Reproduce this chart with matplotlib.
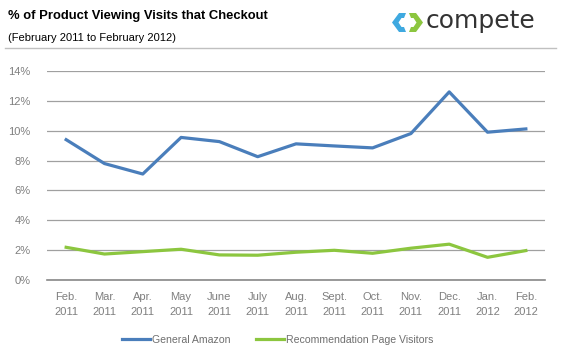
import numpy as np
import matplotlib.pyplot as plt
from matplotlib.patches import Polygon

plt.rcParams['font.family'] = ['Liberation Sans', 'DejaVu Sans']

months = ["Feb.\n2011", "Mar.\n2011", "Apr.\n2011", "May\n2011", "June\n2011",
          "July\n2011", "Aug.\n2011", "Sept.\n2011", "Oct.\n2011", "Nov.\n2011",
          "Dec.\n2011", "Jan.\n2012", "Feb.\n2012"]
amazon = [9.4, 7.8, 7.1, 9.55, 9.27, 8.26, 9.12, 8.98, 8.85, 9.81, 12.6, 9.9, 10.12]
recs = [2.19, 1.74, 1.9, 2.06, 1.68, 1.66, 1.86, 1.99, 1.79, 2.13, 2.4, 1.52, 1.97]
yticks = [0, 2, 4, 6, 8, 10, 12, 14]

W, H = 563, 351
fig = plt.figure(figsize=(W / 100, H / 100), dpi=100)
ax = fig.add_axes([47/W, 1-280/H, 498/W, 209/H])

x = np.arange(len(months))
ax.plot(x, amazon, color="#4a7ebb", lw=2.3, label="General Amazon")
ax.plot(x, recs, color="#8cc63f", lw=2.3, label="Recommendation Page Visitors")

ax.set_xlim(-0.5, len(months) - 0.5)
ax.set_ylim(0, 14)
ax.set_yticks(yticks)
ax.set_yticklabels([f"{v}%" for v in yticks])
ax.set_xticks(x)
ax.set_xticklabels(months, linespacing=1.6)
for t in ax.get_xticklabels() + ax.get_yticklabels():
    t.set_color("#7f7f7f")
    t.set_fontsize(8)
ax.tick_params(length=0, pad=9)
ax.tick_params(axis="y", pad=12)
ax.grid(axis="y", color="#a0a0a0", lw=0.9)
ax.set_axisbelow(True)
for s in ["top", "right", "left"]:
    ax.spines[s].set_visible(False)
ax.spines["bottom"].set_color("#888888")
ax.spines["bottom"].set_linewidth(1.2)

leg = fig.legend(loc="center", bbox_to_anchor=(278/W, 1-340/H), ncol=2, frameon=False,
                 fontsize=7.6, handlelength=2.65, handletextpad=0.2, columnspacing=2.4)
for t in leg.get_texts():
    t.set_color("#6f6f6f")

# header
fig.text(8/W, 1-16/H, "% of Product Viewing Visits that Checkout", fontsize=9.4,
         fontweight="bold", va="center")
fig.text(8/W, 1-38/H, "(February 2011 to February 2012)", fontsize=8, va="center")
fig.add_artist(plt.Line2D([5/W, 556/W], [1-48/H, 1-48/H], color="#c0c0c0", lw=1))

# compete logo
def px(pts):
    return [(px_x / W, 1 - px_y / H) for px_x, px_y in pts]

blue = [(406, 13), (399, 13), (392, 22.5), (399, 32), (406, 32),
        (404, 27), (401.5, 27), (398.5, 22.5), (401.5, 18), (404, 18)]
green = [(409, 13), (416, 13), (423, 22.5), (416, 32), (409, 32),
         (411, 27), (413.5, 27), (416.5, 22.5), (413.5, 18), (411, 18)]
fig.add_artist(Polygon(px(blue), closed=True, transform=fig.transFigure,
                       facecolor="#3fa9e0", edgecolor="none"))
fig.add_artist(Polygon(px(green), closed=True, transform=fig.transFigure,
                       facecolor="#8cc63f", edgecolor="none"))
fig.text(426/W, 1-28/H, "compete", fontsize=18, color="#333333", va="baseline",
         family="DejaVu Sans", fontweight="medium")

fig.savefig("out.png", dpi=100)
